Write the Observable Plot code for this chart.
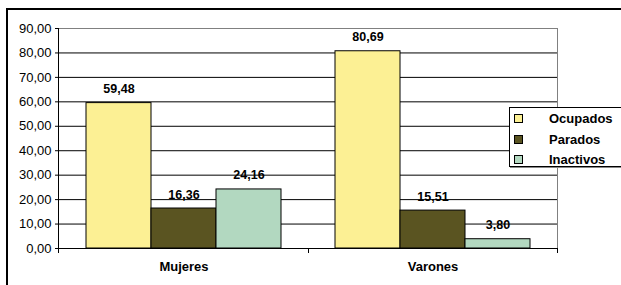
<!DOCTYPE html>
<html>
<head>
<meta charset="utf-8">
<script src="https://cdn.jsdelivr.net/npm/d3@7"></script>
<script src="https://cdn.jsdelivr.net/npm/@observablehq/plot@0.6"></script>
<style>
  html, body { margin: 0; padding: 0; background: #fff; }
  #wrap { position: relative; width: 621px; height: 285px; overflow: hidden; font-family: Arial, "Liberation Sans", sans-serif; }
  #frame { position: absolute; left: 6px; top: 8px; width: 700px; height: 400px; border-left: 2px solid #000; border-top: 2px solid #000; box-sizing: border-box; }
  #chart { position: absolute; left: 0; top: 0; }
  #legend { position: absolute; left: 509px; top: 107px; width: 130px; height: 60px; box-sizing: border-box; border: 1px solid #000; background: #fff; box-shadow: 1px 1px 0 #888; }
  .item { position: absolute; left: 0; height: 15px; font-weight: bold; font-size: 13px; color: #000; line-height: 15px; }
  .sw { position: absolute; left: 4px; top: 3px; width: 7px; height: 7px; border: 1px solid #000; }
  .lab { position: absolute; left: 39px; top: 0; white-space: nowrap; }
</style>
</head>
<body>
<div id="wrap">
  <div id="frame"></div>
  <div id="chart"></div>
  <div id="legend"></div>
</div>
<script>
const categories = ["Mujeres", "Varones"];
const series = ["Ocupados", "Parados", "Inactivos"];
const mujeres = [59.48, 16.36, 24.16];
const varones = [80.69, 15.51, 3.80];
const yTicks = [0, 10, 20, 30, 40, 50, 60, 70, 80, 90];
const colors = ["#FCF094", "#5A5421", "#B2D8C0"];

const fmt = d => d.toFixed(2).replace(".", ",");
const values = [mujeres, varones];
const data = categories.flatMap((c, i) => series.map((s, j) => ({cat: c, serie: s, value: values[i][j]})));

const plot = Plot.plot({
  width: 621,
  height: 285,
  marginLeft: 58,
  marginRight: 64,
  marginTop: 28,
  marginBottom: 37,
  style: {fontFamily: "Arial, 'Liberation Sans', sans-serif", fontSize: "13px", background: "transparent", color: "#000"},
  fx: {domain: categories, padding: 0, axis: null, label: null},
  x: {domain: series, paddingInner: 0, paddingOuter: 0.4, axis: null},
  y: {domain: [0, 90], axis: null},
  color: {domain: series, range: colors},
  marks: [
    Plot.gridY(yTicks, {stroke: "#000", strokeOpacity: 1}),
    Plot.barY(data, {fx: "cat", x: "serie", y: "value", fill: "serie", stroke: "#000", strokeWidth: 1}),
    Plot.text(data, {fx: "cat", x: "serie", y: "value", text: d => fmt(d.value), dy: -14, fontWeight: "bold", fontSize: 12.5}),
    Plot.ruleY([0], {stroke: "#000"}),
    Plot.axisY(yTicks, {tickSize: 4, tickPadding: 4, tickFormat: fmt, fontSize: 13, label: null}),
    Plot.axisFx({anchor: "bottom", tickSize: 0, tickPadding: 13, fontWeight: "bold", fontSize: 13, label: null})
  ]
});
document.getElementById("chart").appendChild(plot);

// plot area border and boundary ticks, from the scales
const fxS = plot.scale("fx");
const yS = plot.scale("y");
const band = d3.scaleBand().domain(fxS.domain).range(fxS.range).padding(0);
const y0 = yS.apply(0), yTop = yS.apply(d3.max(yTicks));
const edges = [band(categories[0]), ...categories.map(c => band(c) + band.bandwidth())];
const svg = d3.select(plot);
const g = svg.append("g").attr("stroke-width", 1).attr("fill", "none");
g.append("line").attr("x1", edges[0]).attr("x2", edges[edges.length - 1]).attr("y1", Math.round(yTop) + 0.5).attr("y2", Math.round(yTop) + 0.5).attr("stroke", "#808080");
g.append("line").attr("x1", Math.round(edges[edges.length - 1]) + 0.5).attr("x2", Math.round(edges[edges.length - 1]) + 0.5).attr("y1", yTop).attr("y2", y0).attr("stroke", "#808080");
g.append("line").attr("x1", Math.round(edges[0]) + 0.5).attr("x2", Math.round(edges[0]) + 0.5).attr("y1", yTop).attr("y2", y0).attr("stroke", "#000");
edges.forEach(x => {
  g.append("line").attr("x1", Math.round(x) + 0.5).attr("x2", Math.round(x) + 0.5).attr("y1", y0).attr("y2", y0 + 5).attr("stroke", "#000");
});

// legend
const legend = document.getElementById("legend");
series.forEach((s, i) => {
  const item = document.createElement("div");
  item.className = "item";
  item.style.top = (3 + i * 20.5) + "px";
  item.innerHTML = `<span class="sw" style="background:${colors[i]}"></span><span class="lab">${s}</span>`;
  legend.appendChild(item);
});
</script>
</body>
</html>
